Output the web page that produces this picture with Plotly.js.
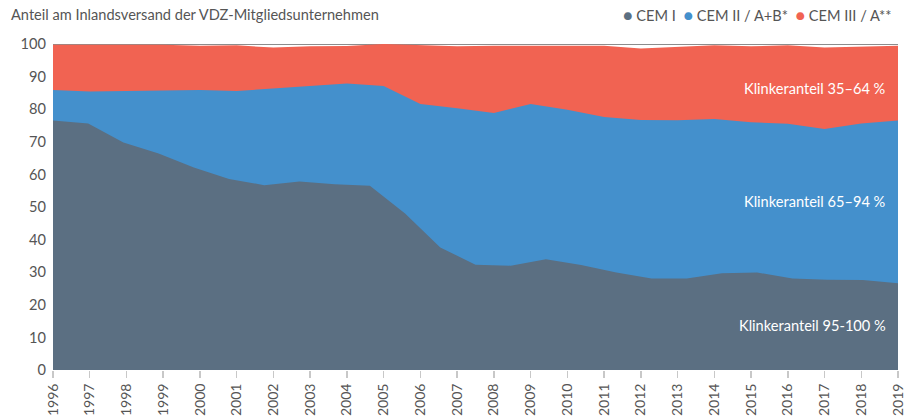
<!DOCTYPE html>
<html>
<head>
<meta charset="utf-8">
<script src="https://cdn.plot.ly/plotly-3.0.1.min.js"></script>
<style>
  html, body { margin: 0; padding: 0; background: #fff; }
  #chart { width: 914px; height: 418px; }
</style>
</head>
<body>
<div id="chart"></div>
<script>
// Years shown on the x axis
const years = [1996,1997,1998,1999,2000,2001,2002,2003,2004,2005,2006,2007,2008,2009,2010,2011,2012,2013,2014,2015,2016,2017,2018,2019];

// CEM I share (series drawn with 25 evenly spaced points across the period)
const cemI = [76.5, 75.6, 69.8, 66.4, 62.1, 58.6, 56.7, 57.8, 57.0, 56.5, 48.0, 37.6, 32.3, 32.0, 34.0, 32.2, 29.9, 28.1, 28.1, 29.7, 29.9, 28.1, 27.7, 27.6, 26.6];

// Cumulative top of CEM I + CEM II / A+B* (per year)
const cemI_II_cum = [85.9, 85.4, 85.6, 85.8, 85.9, 85.6, 86.4, 87.1, 87.9, 87.1, 81.6, 80.3, 78.8, 81.6, 79.8, 77.6, 76.7, 76.6, 77.0, 76.0, 75.5, 73.9, 75.6, 76.5];

// Cumulative top of CEM I + CEM II + CEM III / A** (per year)
const total_cum = [99.8, 99.7, 99.8, 99.8, 99.5, 99.6, 98.9, 99.3, 99.4, 100, 99.6, 99.3, 99.5, 99.5, 99.4, 99.5, 98.6, 99.2, 99.6, 99.3, 99.6, 98.9, 99.3, 99.5];

const seriesNames = ['CEM I', 'CEM II / A+B*', 'CEM III / A**'];
const colors = ['#5b6f82', '#4490cc', '#f16352'];
const yTicks = [0,10,20,30,40,50,60,70,80,90,100];
const areaLabels = ['Klinkeranteil 35–64 %', 'Klinkeranteil 65–94 %', 'Klinkeranteil 95-100 %'];
const areaLabelY = [86.3, 51.6, 13.6];

const first = years[0], last = years[years.length - 1];
const cemIx = cemI.map((_, i) => first + i * (last - first) / (cemI.length - 1));

const traces = [
  { x: years, y: total_cum, type: 'scatter', mode: 'lines', fill: 'tozeroy',
    line: { width: 0, color: colors[2] }, fillcolor: colors[2], name: seriesNames[2], showlegend: false, hoverinfo: 'skip' },
  { x: years, y: cemI_II_cum, type: 'scatter', mode: 'lines', fill: 'tozeroy',
    line: { width: 0, color: colors[1] }, fillcolor: colors[1], name: seriesNames[1], showlegend: false, hoverinfo: 'skip' },
  { x: cemIx, y: cemI, type: 'scatter', mode: 'lines', fill: 'tozeroy',
    line: { width: 0, color: colors[0] }, fillcolor: colors[0], name: seriesNames[0], showlegend: false, hoverinfo: 'skip' }
];

const font = 'Lato, "Noto Sans", sans-serif';

const annotations = [
  { xref: 'paper', yref: 'paper', x: -0.052, y: 1.092, xanchor: 'left', yanchor: 'middle', showarrow: false,
    text: 'Anteil am Inlandsversand der VDZ-Mitgliedsunternehmen', font: { family: font, size: 14.6, color: '#555' } },
  { xref: 'paper', yref: 'paper', x: 0.995, y: 1.092, xanchor: 'right', yanchor: 'middle', showarrow: false,
    text: seriesNames.map((n, i) => '<span style="color:' + colors[i] + ';font-size:16px">●</span> ' + n).join('  '),
    font: { family: font, size: 14.6, color: '#555' } }
];
areaLabels.forEach((t, i) => annotations.push({
  xref: 'paper', yref: 'y', x: 0.988, y: areaLabelY[i], xanchor: 'right', yanchor: 'middle', showarrow: false,
  text: t, font: { family: font, size: 14.6, color: '#ffffff' }
}));

const layout = {
  width: 914, height: 418,
  margin: { l: 53, r: 16, t: 44, b: 48 },
  paper_bgcolor: '#fff', plot_bgcolor: '#fff',
  showlegend: false,
  xaxis: {
    type: 'linear', range: [first, last], tickmode: 'array', tickvals: years, ticktext: years.map(String),
    tickangle: -90, ticks: 'outside', ticklen: 7, tickwidth: 1.5, tickcolor: '#c8c8c8',
    showgrid: false, zeroline: false, showline: false,
    tickfont: { family: font, size: 14, color: '#555' }
  },
  yaxis: {
    range: [0, 100], tickmode: 'array', tickvals: yTicks, ticks: '', ticklabelstandoff: 6,
    showgrid: true, gridcolor: '#dddddd', zeroline: false, showline: false,
    tickfont: { family: font, size: 14.6, color: '#555' }
  },
  shapes: [
    { type: 'line', xref: 'paper', yref: 'y', x0: 0, x1: 1, y0: 100, y1: 100, line: { color: '#666', width: 1.5 }, layer: 'below' }
  ],
  annotations: annotations
};

Plotly.newPlot('chart', traces, layout, { displayModeBar: false, staticPlot: true });
</script>
</body>
</html>
